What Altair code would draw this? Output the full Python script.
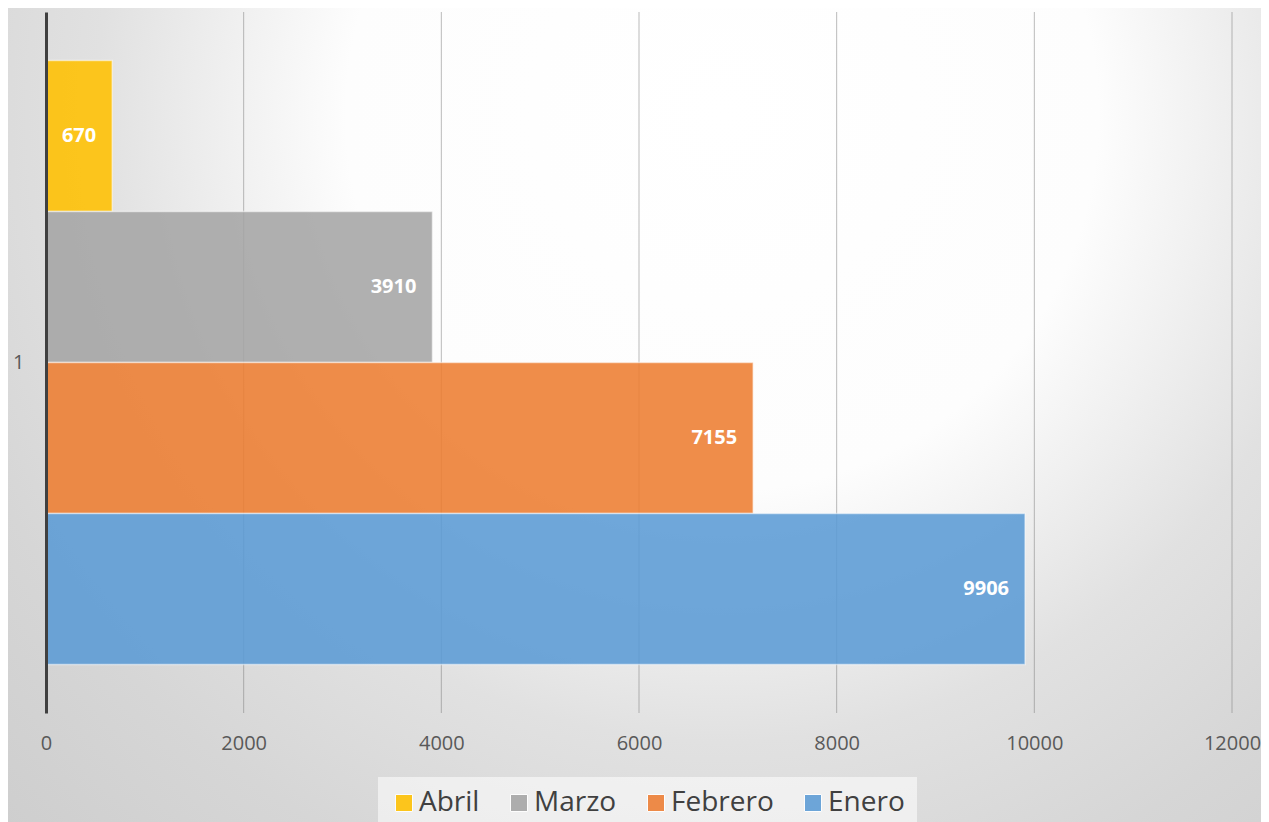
import altair as alt
import pandas as pd

# Data
series = ["Abril", "Marzo", "Febrero", "Enero"]
values = [670, 3910, 7155, 9906]
category = ["1", "1", "1", "1"]
colors = ["#FFC000", "#A5A5A5", "#ED7D31", "#5B9BD5"]
x_ticks = [0, 2000, 4000, 6000, 8000, 10000, 12000]

df = pd.DataFrame({"cat": category, "series": series, "value": values})
grid_df = pd.DataFrame({"tick": x_ticks[1:]})
bg_df = pd.DataFrame({"a": [1]})

W, H = 1186, 701
PAD = {"left": 38, "top": 4, "right": 29, "bottom": 110}
FONT = "Open Sans"

x_scale = alt.Scale(domain=[0, 12000], nice=False, zero=True)

bg = alt.Chart(bg_df).mark_rect(
    color={
        "gradient": "radial",
        "x1": 0.57, "y1": 0.26, "r1": 0,
        "x2": 0.57, "y2": 0.26, "r2": 1.0,
        "stops": [
            {"offset": 0.0, "color": "#ffffff"},
            {"offset": 0.30, "color": "#fdfdfd"},
            {"offset": 0.5, "color": "#e1e1e1"},
            {"offset": 0.65, "color": "#d6d6d6"},
            {"offset": 1.0, "color": "#c4c4c4"},
        ],
    }
).encode(
    x=alt.value(-PAD["left"]),
    x2=alt.value(W + PAD["right"]),
    y=alt.value(-PAD["top"]),
    y2=alt.value(H + PAD["bottom"]),
)

grid = alt.Chart(grid_df).mark_rule(color="#7a7a7a", opacity=0.5, strokeWidth=1).encode(
    x=alt.X("tick:Q", scale=x_scale),
    y=alt.value(0),
    y2=alt.value(H),
)

y_enc = alt.Y(
    "cat:N",
    scale=alt.Scale(paddingInner=0, paddingOuter=0.0803),
    axis=alt.Axis(
        title=None, ticks=False, labelFontSize=20, labelColor="#595959",
        labelFont=FONT, labelPadding=22, domainColor="#404040",
        domainWidth=3, zindex=1, labelAngle=0,
    ),
)
yoff_enc = alt.YOffset(
    "series:N",
    sort=series,
    scale=alt.Scale(domain=series, paddingInner=0, paddingOuter=0),
)

x_enc = alt.X(
    "value:Q",
    scale=x_scale,
    axis=alt.Axis(
        title=None, values=x_ticks, grid=False, domain=False, ticks=False,
        labelFontSize=20, labelColor="#595959", labelFont=FONT,
        labelPadding=20, zindex=1, format="d", labelFlush=False,
    ),
)

bars = alt.Chart(df).mark_bar(
    fillOpacity=0.88, stroke="white", strokeOpacity=0.5, strokeWidth=1.5
).encode(
    x=x_enc,
    y=y_enc,
    yOffset=yoff_enc,
    color=alt.Color(
        "series:N",
        scale=alt.Scale(domain=series, range=colors),
        sort=series,
        legend=alt.Legend(
            title=None, orient="none", direction="horizontal",
            legendX=332, legendY=765, padding=12,
            fillColor="rgba(255,255,255,0.55)",
            labelFontSize=28, labelColor="#404040", labelFont=FONT,
            symbolType="square", symbolSize=289, symbolOpacity=0.88,
            symbolStrokeColor="white", symbolStrokeWidth=1,
            labelOffset=1, columnPadding=25,
        ),
    ),
)

labels = alt.Chart(df).mark_text(
    align="right", baseline="middle", dx=-16, color="white",
    fontSize=20, fontWeight="bold", font=FONT,
).encode(
    x=alt.X("value:Q", scale=x_scale),
    y=alt.Y("cat:N"),
    yOffset=alt.YOffset("series:N", sort=series),
    text=alt.Text("value:Q", format="d"),
)

chart = alt.layer(bg, grid, bars, labels).properties(
    width=W, height=H, padding=PAD, autosize="none",
).configure_view(stroke=None).configure(background="#dcdcdc")

chart.save("out.html", embed_options={"renderer": "svg", "actions": False})
